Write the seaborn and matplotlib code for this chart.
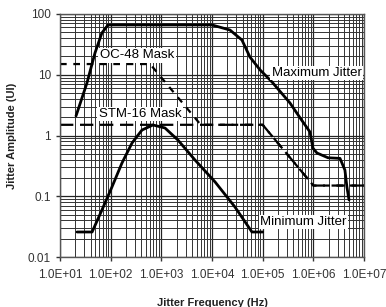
import numpy as np
import pandas as pd
import matplotlib
matplotlib.use("Agg")
import matplotlib.pyplot as plt
from matplotlib import font_manager
import seaborn as sns

# ---- data ----
max_f = [20.7, 34, 49, 67, 88.5, 1e4, 2.26e4, 3.9e4, 5.6e4, 8.9e4, 1.53e5, 3.46e5,
         5.5e5, 8.6e5, 9.8e5, 1.18e6, 1.95e6, 3.36e6, 4.2e6, 4.6e6, 5.06e6]
max_a = [2.1, 7.3, 22.8, 48.6, 66, 66, 54.5, 37.3, 19.6, 12, 7.6, 3.43,
         1.94, 1.14, 0.62, 0.515, 0.43, 0.42, 0.27, 0.142, 0.087]

min_f = [21.7, 43, 67, 106, 167, 264, 415, 684, 1180, 2130, 4620, 1.15e4,
         2.84e4, 6.15e4, 1.0e5]
min_a = [0.0258, 0.0258, 0.059, 0.142, 0.352, 0.753, 1.23, 1.49, 1.33, 0.84,
         0.395, 0.172, 0.0665, 0.0258, 0.0258]

oc48_f = [10, 600, 6000, 1e5, 1e6, 1e7]
oc48_a = [15, 15, 1.5, 1.5, 0.15, 0.15]

stm16_f = [10, 1e5, 1e6, 1e7]
stm16_a = [1.5, 1.5, 0.15, 0.15]

x_ticks = [1e1, 1e2, 1e3, 1e4, 1e5, 1e6, 1e7]
x_tick_labels = ["1.0E+01", "1.0E+02", "1.0E+03", "1.0E+04", "1.0E+05", "1.0E+06", "1.0E+07"]
y_ticks = [0.01, 0.1, 1, 10, 100]
y_tick_labels = ["0.01", "0.1", "1", "10", "100"]

# ---- plot ----
sns.set_style("white")
plt.rcParams['font.family'] = ['Liberation Sans', 'DejaVu Sans']

available = {f.name for f in font_manager.fontManager.ttflist}
if 'Liberation Sans Narrow' in available:
    lab_family = ['Liberation Sans Narrow']
    lab_size = 10
else:
    lab_family = ['Liberation Sans']
    lab_size = 9.5

fig = plt.figure(figsize=(3.86, 3.07), dpi=100)
ax = fig.add_axes([60/386, 1-257/307, (364-60)/386, (257-14)/307])
ax.set_xscale("log")
ax.set_yscale("log")
ax.set_xlim(1e1, 1e7)
ax.set_ylim(0.01, 100)

ax.grid(True, which="major", color="#222222", linewidth=0.9)
ax.grid(True, which="minor", color="#333333", linewidth=0.7)
ax.set_axisbelow(True)

def draw(fx, ay, **kw):
    df = pd.DataFrame({"f": fx, "a": ay})
    sns.lineplot(data=df, x="f", y="a", ax=ax, sort=False, estimator=None,
                 color="black", **kw)

draw(oc48_f, oc48_a, linewidth=1.6, dashes=False, linestyle=(0, (3, 3)))
draw(stm16_f, stm16_a, linewidth=1.6, dashes=False, linestyle=(0, (6, 3)))
draw(max_f, max_a, linewidth=2.0)
draw(min_f, min_a, linewidth=2.0)

ax.set_xticks(x_ticks)
ax.set_xticklabels(x_tick_labels)
ax.set_yticks(y_ticks)
ax.set_yticklabels(y_tick_labels)
ax.xaxis.set_minor_locator(matplotlib.ticker.LogLocator(base=10, subs=np.arange(2, 10)))
ax.yaxis.set_minor_locator(matplotlib.ticker.LogLocator(base=10, subs=np.arange(2, 10)))
ax.tick_params(axis="both", which="major", direction="out", length=3, width=1,
               color="#333333", labelsize=8.5, labelcolor="#333333", bottom=True, left=True)
ax.tick_params(axis="both", which="minor", length=0)
ax.tick_params(axis="x", pad=6)
for s in ax.spines.values():
    s.set_color("#555555")
    s.set_linewidth(1.0)

ax.set_xlabel("Jitter Frequency (Hz)", fontsize=8, fontweight="bold", color="#222222", labelpad=12)
ax.set_ylabel("Jitter Amplitude (UI)", fontsize=8, fontweight="bold", color="#222222", labelpad=8)

lab_font = dict(fontsize=lab_size, family=lab_family, color="black",
                va="center", ha="center",
                bbox=dict(facecolor="white", edgecolor="none", pad=1.0))
ax.text(330, 21, "OC-48 Mask", **lab_font)
ax.text(380, 2.26, "STM-16 Mask", **lab_font)
ax.text(1.17e6, 10.7, "Maximum Jitter", **lab_font)
ax.text(6.3e5, 0.0377, "Minimum Jitter", **lab_font)

fig.savefig("out.png", dpi=100)
